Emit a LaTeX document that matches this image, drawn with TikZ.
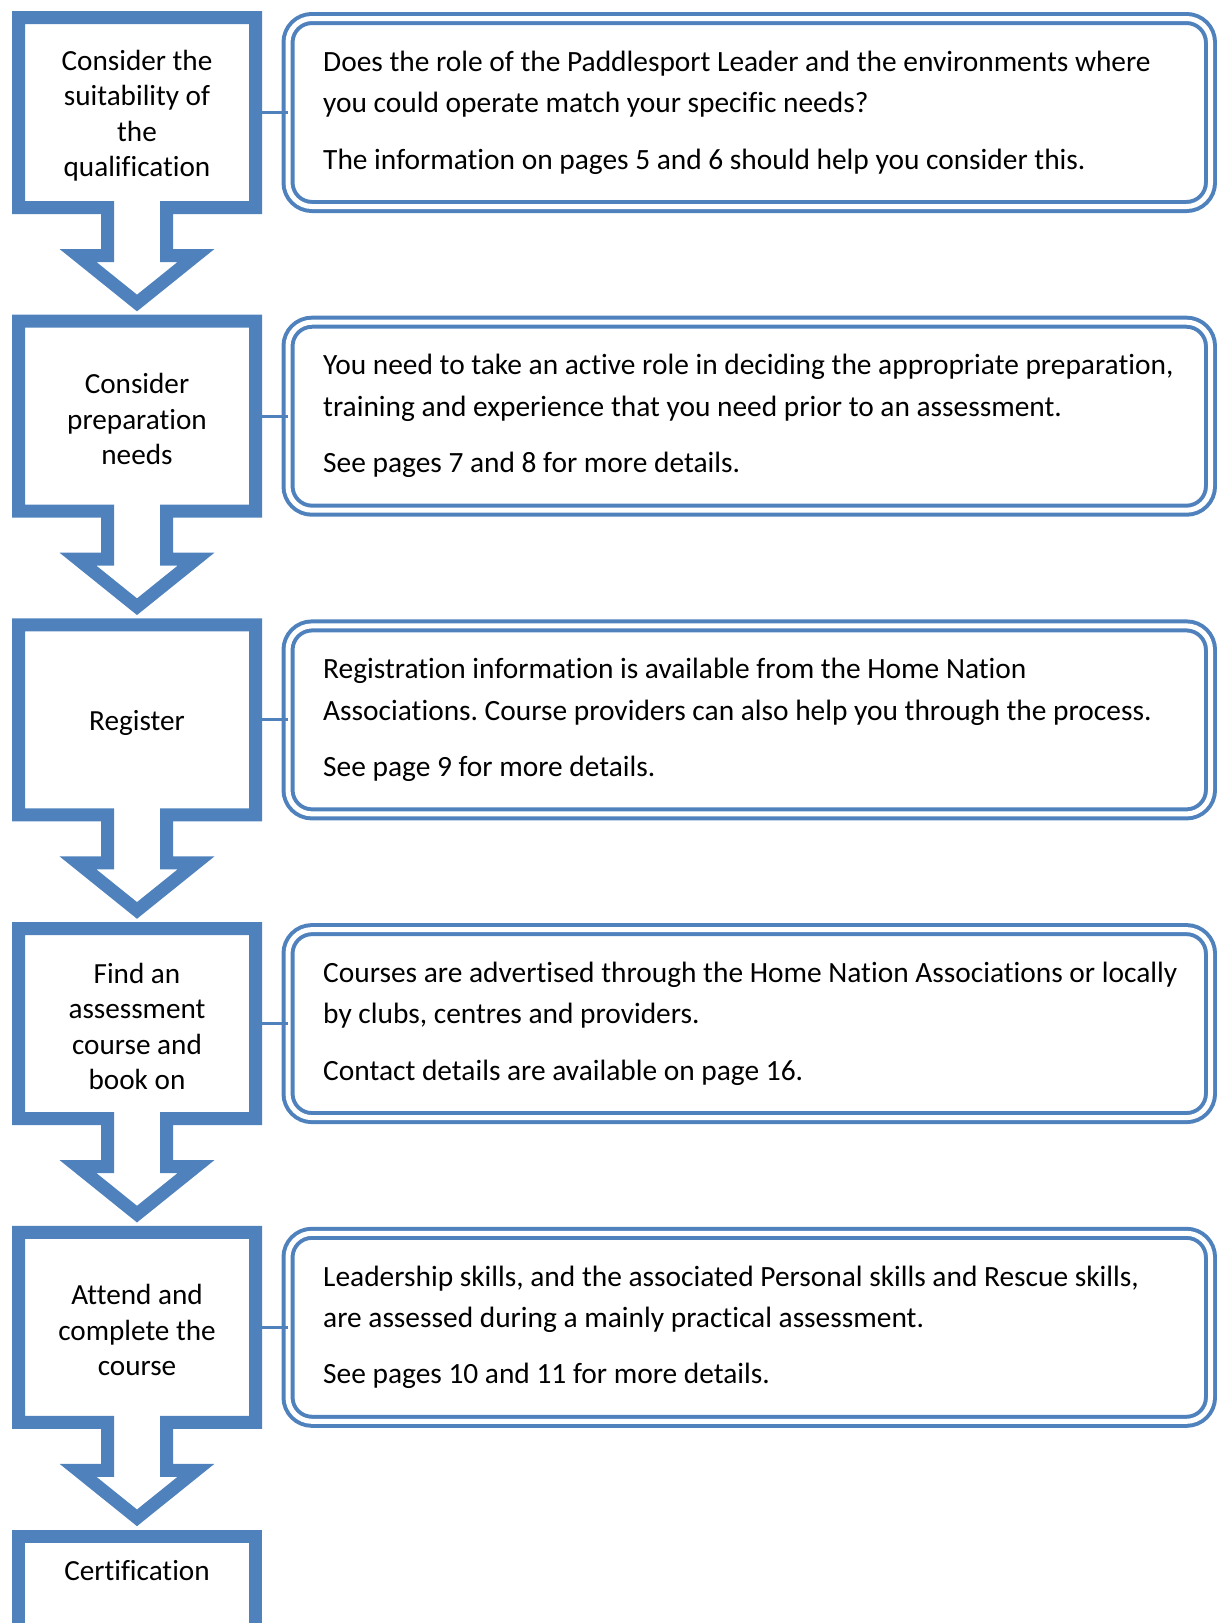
\documentclass[tikz,border=0pt]{standalone}
\usepackage{fontspec}
\setmainfont{Carlito}[Ligatures=NoCommon]
\usepackage{xcolor}
\usetikzlibrary{positioning}
\definecolor{boxblue}{HTML}{4F81BD}
\frenchspacing

\begin{document}
\begin{tikzpicture}[x=1pt,y=-1pt,
  callout/.style={draw=boxblue,line width=13pt,line join=miter},
  stepbox/.style={minimum width=237pt,minimum height=190pt,inner sep=0pt,outer sep=0pt,
    align=center,font=\fontsize{29.2}{35.5}\selectfont},
  infobox/.style={draw=boxblue,line width=4pt,double=white,double distance=5pt,
    rounded corners=24pt,minimum width=922.5pt,minimum height=188pt,inner sep=0pt,outer sep=0pt},
  infotext/.style={align=left,inner sep=0pt,font=\fontsize{29.4}{41.4}\selectfont},
  link/.style={draw=boxblue,line width=3pt}]
  \useasboundingbox (0,0) rectangle (1217,1623);
  \clip (0,0) rectangle (1217,1623);

  \foreach \i/\T/\ltext/\rtext in {
    1/11/{Consider the\\suitability of\\the\\qualification}/{Does the role of the Paddlesport Leader and the environments where\\you could operate match your specific needs?\\[15pt]The information on pages 5 and 6 should help you consider this.},
    2/314.7/{Consider\\preparation\\needs}/{You need to take an active role in deciding the appropriate preparation,\\training and experience that you need prior to an assessment.\\[15pt]See pages 7 and 8 for more details.},
    3/618.4/{Register}/{Registration information is available from the Home Nation\\Associations. Course providers can also help you through the process.\\[15pt]See page 9 for more details.},
    4/922.1/{Find an\\assessment\\course and\\book on}/{Courses are advertised through the Home Nation Associations or locally\\by clubs, centres and providers.\\[15pt]Contact details are available on page 16.},
    5/1225.8/{Attend and\\complete the\\course}/{Leadership skills, and the associated Personal skills and Rescue skills,\\are assessed during a mainly practical assessment.\\[15pt]See pages 10 and 11 for more details.}}
  {
    \draw[callout] (18.5,\T+6.5) -- (255.5,\T+6.5) -- (255.5,\T+196.5) -- (166.5,\T+196.5)
      -- (166.5,\T+244.5) -- (196,\T+244.5) -- (137,\T+292) -- (78,\T+244.5)
      -- (107.5,\T+244.5) -- (107.5,\T+196.5) -- (18.5,\T+196.5) -- cycle;
    \node[stepbox] (step\i) at (137,\T+101.5) {};
    \node[align=center,inner sep=0pt,font=\fontsize{29.2}{35.5}\selectfont,yshift=-3pt]
      (steptext\i) at (step\i.center) {\ltext};
    \node[infobox] (info\i) at (749.25,\T+101.5) {};
    \node[infotext,right=35pt of info\i.west] (infotext\i) {\rtext};
    \draw[link] (step\i.east) -- (info\i.west);
  }

  \draw[callout] (18.5,1650) -- (18.5,1536) -- (255.5,1536) -- (255.5,1650);
  \node[stepbox,minimum height=80pt] (step6) at (137,1571) {Certification};
\end{tikzpicture}
\end{document}
